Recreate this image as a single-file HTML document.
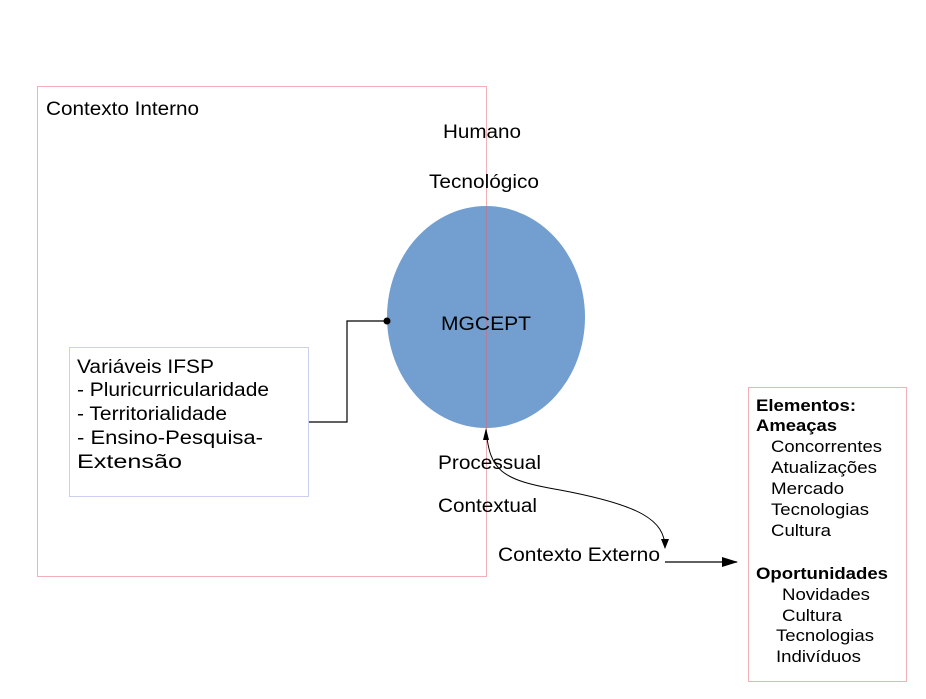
<!DOCTYPE html>
<html><head><meta charset="utf-8"><style>
html,body{margin:0;padding:0;background:#fff;}
svg text{font-family:"Liberation Sans",Arial,sans-serif;fill:#000;}
</style></head><body>
<svg width="926" height="694" viewBox="0 0 926 694" xmlns="http://www.w3.org/2000/svg">
<defs>
<marker id="ah" markerWidth="10" markerHeight="10" refX="9" refY="5" orient="auto" markerUnits="userSpaceOnUse">
<path d="M0,1 L10,5 L0,9 z" fill="#000"/></marker>
<marker id="ah2" markerWidth="16" markerHeight="10" refX="15" refY="5" orient="auto" markerUnits="userSpaceOnUse">
<path d="M0,0 L16,5 L0,10 z" fill="#000"/></marker>
</defs>
<ellipse cx="486" cy="317" rx="99" ry="111" fill="#729fcf"/>
<rect x="37.5" y="86.5" width="449" height="490" fill="none" stroke="#e06070" stroke-width="1" stroke-dasharray="1,1"/>
<rect x="69.5" y="347.5" width="239" height="149" fill="none" stroke="#9aa0e0" stroke-width="1" stroke-dasharray="1,1"/>
<rect x="748.5" y="387.5" width="158" height="294" fill="none" stroke="#e06070" stroke-width="1" stroke-dasharray="1,1"/>
<polyline points="309,422 347,422 347,321 387,321" fill="none" stroke="#000" stroke-width="1.2"/>
<circle cx="387" cy="321" r="3.5" fill="#000"/>
<path d="M486,430 C490,470 500,480 560,490 C640,505 665,520 665,548" fill="none" stroke="#000" stroke-width="1" marker-end="url(#ah)"/>
<path d="M489,440 L486,428 L483,440 z" fill="#000"/>
<line x1="665" y1="562" x2="737" y2="562" stroke="#000" stroke-width="1.2" marker-end="url(#ah2)"/>
<g font-size="19" lengthAdjust="spacingAndGlyphs">
<text x="46" y="115" textLength="153" lengthAdjust="spacingAndGlyphs">Contexto Interno</text>
<text x="443" y="138" textLength="78" lengthAdjust="spacingAndGlyphs">Humano</text>
<text x="429" y="188" textLength="110" lengthAdjust="spacingAndGlyphs">Tecnológico</text>
<text x="441" y="330" textLength="90" lengthAdjust="spacingAndGlyphs">MGCEPT</text>
<text x="438" y="469" textLength="103" lengthAdjust="spacingAndGlyphs">Processual</text>
<text x="438" y="512" textLength="99" lengthAdjust="spacingAndGlyphs">Contextual</text>
<text x="498" y="561" textLength="162" lengthAdjust="spacingAndGlyphs">Contexto Externo</text>
<text x="77" y="373" textLength="137" lengthAdjust="spacingAndGlyphs">Variáveis IFSP</text>
<text x="77" y="396" textLength="192" lengthAdjust="spacingAndGlyphs">- Pluricurricularidade</text>
<text x="77" y="420" textLength="150" lengthAdjust="spacingAndGlyphs">- Territorialidade</text>
<text x="77" y="444" textLength="186" lengthAdjust="spacingAndGlyphs">- Ensino-Pesquisa-</text>
<text x="77" y="468" textLength="105" lengthAdjust="spacingAndGlyphs">Extensão</text>
</g>
<g font-size="17">
<text x="756" y="411" font-weight="bold" textLength="100" lengthAdjust="spacingAndGlyphs">Elementos:</text>
<text x="756" y="431" font-weight="bold" textLength="81" lengthAdjust="spacingAndGlyphs">Ameaças</text>
<text x="771" y="452" textLength="111" lengthAdjust="spacingAndGlyphs">Concorrentes</text>
<text x="771" y="473" textLength="106" lengthAdjust="spacingAndGlyphs">Atualizações</text>
<text x="771" y="494" textLength="73" lengthAdjust="spacingAndGlyphs">Mercado</text>
<text x="771" y="515" textLength="98" lengthAdjust="spacingAndGlyphs">Tecnologias</text>
<text x="771" y="536" textLength="60" lengthAdjust="spacingAndGlyphs">Cultura</text>
<text x="756" y="579" font-weight="bold" textLength="132" lengthAdjust="spacingAndGlyphs">Oportunidades</text>
<text x="782" y="600" textLength="88" lengthAdjust="spacingAndGlyphs">Novidades</text>
<text x="782" y="621" textLength="60" lengthAdjust="spacingAndGlyphs">Cultura</text>
<text x="776" y="641" textLength="98" lengthAdjust="spacingAndGlyphs">Tecnologias</text>
<text x="776" y="662" textLength="85" lengthAdjust="spacingAndGlyphs">Indivíduos</text>
</g>
</svg>
</body></html>
